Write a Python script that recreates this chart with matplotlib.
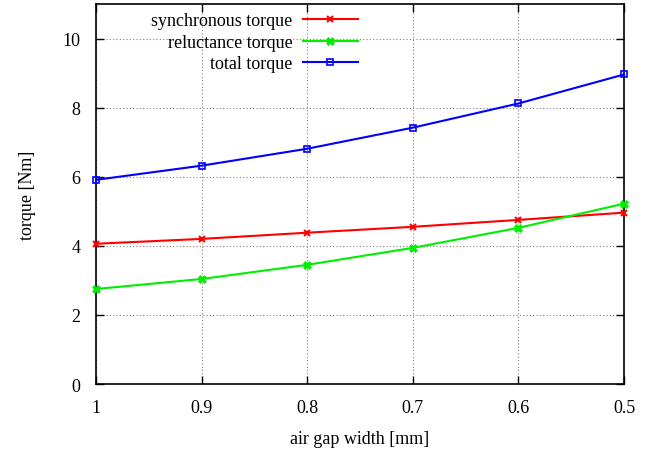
import matplotlib.pyplot as plt

plt.rcParams['font.family'] = ['Liberation Serif', 'DejaVu Serif']

# Data
gap = [1.0, 0.9, 0.8, 0.7, 0.6, 0.5]
sync_torque = [4.06, 4.20, 4.38, 4.55, 4.75, 4.96]
rel_torque = [2.75, 3.04, 3.45, 3.94, 4.52, 5.22]
total_torque = [5.91, 6.32, 6.81, 7.42, 8.12, 8.96]

fig = plt.figure(figsize=(6.63, 4.52), dpi=100)
ax = fig.add_axes([96 / 663, 1 - 385 / 452, (624 - 96) / 663, (385 - 5) / 452])

ax.plot(gap, sync_torque, color='#ff0000', marker='x', markersize=5, mew=1.5,
        linewidth=1.5, label='synchronous torque', clip_on=False, zorder=3)
ax.plot(gap, rel_torque, color='#00ee00', marker='X', markersize=6, mew=0.5,
        linewidth=1.5, label='reluctance torque', clip_on=False, zorder=3)
ax.plot(gap, total_torque, color='#0000ff', marker='s', markersize=5, mfc='none',
        mew=1.2, linewidth=1.5, label='total torque', clip_on=False, zorder=3)

ax.set_xlim(1.0, 0.5)
ax.set_ylim(0, 11)
ax.set_xticks(gap)
ax.set_xticklabels(['1', '0.9', '0.8', '0.7', '0.6', '0.5'])
ax.set_yticks([0, 2, 4, 6, 8, 10])

ax.grid(True, color='#808080', linestyle=(0, (1, 2)), linewidth=0.8)
ax.tick_params(direction='in', top=True, right=True, length=6, width=1,
               labelsize=13, pad=11)
for s in ax.spines.values():
    s.set_linewidth(1.2)

ax.set_xlabel('air gap width [mm]', fontsize=13, labelpad=10)
ax.set_ylabel('torque [Nm]', fontsize=13, labelpad=19)

leg = ax.legend(loc='upper right', bbox_to_anchor=(0.509, 0.997), frameon=False,
                markerfirst=False, fontsize=13, handlelength=3.0,
                labelspacing=0.25, borderaxespad=0.0, handletextpad=0.6)
for t in leg.get_texts():
    t.set_ha('right')

fig.savefig('out.png', dpi=100)
